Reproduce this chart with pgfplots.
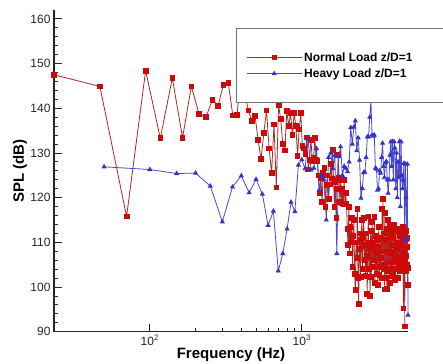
\documentclass[border=0pt]{standalone}
\usepackage{pgfplots}
\pgfplotsset{compat=1.18}
\usepackage{fontspec}
\setmainfont{Liberation Sans}
\definecolor{redS}{RGB}{205,10,10}
\definecolor{redL}{RGB}{175,40,40}
\definecolor{blueS}{RGB}{50,50,205}
\definecolor{blueL}{RGB}{75,75,210}
\begin{document}
\begin{tikzpicture}
\begin{axis}[
  scale only axis, width=354pt, height=321.7pt,
  xmode=log, xmin=23.4, xmax=5000, ymin=90, ymax=162,
  axis lines*=left,
  axis line style={black!85, line width=1.1pt},
  tick align=inside,
  major tick length=8pt, minor tick length=4pt,
  tick style={black!85, line width=0.9pt},
  ytick={90,100,...,160}, minor y tick num=4,
  xtick={100,1000}, xticklabels={10\textsuperscript{2},10\textsuperscript{3}},
  /pgf/number format/assume math mode=true,
  ticklabel style={font=\fontsize{12}{14}\selectfont, text=black!85},
  xlabel={Frequency (Hz)}, ylabel={SPL (dB)},
  xlabel style={at={(rel axis cs:0.5,0)}, anchor=center, yshift=-23pt, font=\bfseries\fontsize{15}{17}\selectfont},
  ylabel style={at={(rel axis cs:0,0.5)}, anchor=center, yshift=34pt, font=\bfseries\fontsize{15}{17}\selectfont},
  legend style={at={(rel axis cs:0.514,0.944)}, anchor=north west, draw=black!55, line width=0.8pt,
    inner xsep=10pt, inner ysep=22pt, font=\fontsize{12}{13}\selectfont\bfseries, row sep=2pt},
  legend cell align=left,
  legend image code/.code={\draw[#1,mark repeat=2,mark phase=2] plot coordinates {(0pt,0pt) (27.5pt,0pt) (55pt,0pt)};},
  clip=false,
]
\addplot[redL, line width=0.8pt, mark=square*, mark size=2.35pt, mark options={fill=redS, draw=redS, solid}] coordinates {
(23.4,147.5)(46.9,144.9)(70.3,115.8)(93.8,148.4)(117.2,133.3)(140.6,146.8)(164.1,133.4)(187.5,144.9)(210.9,138.7)(234.4,138.1)
(257.8,141.9)(281.3,140.6)(304.7,145.3)(328.1,145.7)(351.6,138.4)(375.0,138.6)(398.4,147.5)(421.9,143.0)(445.3,139.5)(468.8,137.2)
(492.2,138.3)(515.6,133.0)(539.1,128.6)(562.5,134.5)(585.9,139.5)(609.4,131.0)(632.8,125.6)(656.3,136.4)(679.7,122.3)(703.1,140.7)
(726.6,137.6)(750.0,132.0)(773.4,130.6)(796.9,139.4)(820.3,136.0)(843.8,139.0)(867.2,134.0)(890.6,138.9)(914.1,136.0)(937.5,129.4)
(960.9,135.3)(984.4,138.9)(1007.8,131.6)(1031.3,131.0)(1054.7,129.8)(1078.1,133.5)(1101.6,126.3)(1125.0,128.5)(1148.4,133.0)(1171.9,128.3)
(1195.3,129.0)(1218.8,133.3)(1242.2,128.5)(1265.6,128.3)(1289.1,125.0)(1312.5,121.0)(1335.9,124.5)(1359.4,119.0)(1382.8,125.5)(1406.3,126.6)
(1429.7,118.0)(1453.1,122.8)(1476.6,125.0)(1500.0,119.8)(1523.4,123.0)(1546.9,127.5)(1570.3,124.3)(1593.8,130.7)(1617.2,124.0)(1640.6,118.0)
(1664.1,123.5)(1687.5,115.4)(1710.9,122.0)(1734.4,129.5)(1757.8,124.5)(1781.3,119.0)(1804.7,124.0)(1828.1,118.7)(1851.6,122.0)(1875.0,118.5)
(1898.4,124.0)(1921.9,118.6)(1945.3,121.0)(1968.8,118.6)(1992.2,113.0)(2015.6,109.5)(2039.1,118.0)(2062.5,107.5)(2085.9,113.5)(2109.4,110.0)
(2132.8,115.5)(2156.3,104.5)(2179.7,111.5)(2203.1,115.0)(2226.6,103.0)(2250.0,99.4)(2273.4,110.0)(2296.9,106.5)(2320.3,117.5)(2343.8,102.0)
(2367.2,96.3)(2390.6,108.5)(2414.1,112.0)(2437.5,102.3)(2460.9,110.5)(2484.4,115.0)(2507.8,104.0)(2531.3,111.0)(2554.7,115.5)(2578.1,106.0)
(2601.6,109.5)(2625.0,102.5)(2648.4,112.0)(2671.9,107.0)(2695.3,98.5)(2718.8,110.0)(2742.2,115.8)(2765.6,104.0)(2789.1,108.5)(2812.5,98.0)
(2835.9,112.5)(2859.4,102.3)(2882.8,109.0)(2906.3,114.5)(2929.7,104.5)(2953.1,110.0)(2976.6,106.0)(3000.0,115.7)(3023.4,101.0)(3046.9,108.0)
(3070.3,111.5)(3093.8,103.0)(3117.2,107.5)(3140.6,110.5)(3164.1,100.5)(3187.5,109.0)(3210.9,113.5)(3234.4,102.7)(3257.8,108.0)(3281.3,104.5)
(3304.7,111.0)(3328.1,106.5)(3351.6,102.0)(3375.0,117.5)(3398.4,108.0)(3421.9,119.7)(3445.3,105.0)(3468.8,112.0)(3492.2,99.5)(3515.6,116.6)
(3539.1,104.0)(3562.5,110.5)(3585.9,102.0)(3609.4,113.0)(3632.8,99.6)(3656.3,108.0)(3679.7,115.0)(3703.1,103.5)(3726.6,111.0)(3750.0,105.5)
(3773.4,114.0)(3796.9,101.0)(3820.3,107.5)(3843.8,112.0)(3867.2,104.0)(3890.6,109.5)(3914.1,113.0)(3937.5,102.5)(3960.9,108.0)(3984.4,103.0)
(4007.8,111.0)(4031.3,105.5)(4054.7,114.0)(4078.1,107.0)(4101.6,101.5)(4125.0,112.5)(4148.4,106.0)(4171.9,109.0)(4195.3,104.0)(4218.8,113.0)
(4242.2,106.5)(4265.6,110.0)(4289.1,102.0)(4312.5,108.5)(4335.9,112.5)(4359.4,105.0)(4382.8,110.0)(4406.3,103.5)(4429.7,111.5)(4453.1,106.0)
(4476.6,113.0)(4500.0,104.5)(4523.4,109.5)(4546.9,112.0)(4570.3,105.0)(4593.8,110.5)(4617.2,107.0)(4640.6,113.5)(4664.1,95.2)(4687.5,108.0)
(4710.9,104.5)(4734.4,112.0)(4757.8,91.2)(4781.3,110.5)(4804.7,106.0)(4828.1,107.0)(4851.6,112.5)(4875.0,103.5)(4898.4,109.0)(4921.9,105.0)
(4945.3,111.0)(4968.8,100.5)(4992.2,104.3)
};
\addlegendentry{\makebox[190pt][l]{Normal Load z/D=1}}
\addplot[blueL, line width=0.8pt, mark=triangle*, mark size=2.2pt, mark options={fill=blueS, draw=blueS, solid}] coordinates {
(50,126.9)(100,126.3)(150,125.4)(200,125.5)(250,122.6)(300,114.6)(350,122.4)(400,124.9)(450,121.1)(500,124.1)
(550,120.8)(600,113.8)(650,117.0)(700,103.6)(750,107.5)(800,113.0)(850,119.0)(900,116.9)(950,127.3)(1000,128.5)
(1050,126.5)(1100,133.0)(1150,126.2)(1200,126.6)(1250,131.0)(1300,121.7)(1350,125.0)(1400,124.0)(1450,115.0)(1500,129.0)
(1550,130.0)(1600,126.5)(1650,129.5)(1700,107.5)(1750,129.2)(1800,131.4)(1850,125.0)(1900,127.0)(1950,126.6)(2000,125.8)
(2050,128.0)(2100,135.7)(2150,132.0)(2200,135.8)(2250,137.2)(2300,130.5)(2350,133.4)(2400,128.4)(2450,119.9)(2500,122.1)
(2550,125.6)(2600,125.7)(2650,129.0)(2700,133.6)(2750,133.6)(2800,138.0)(2850,141.7)(2900,134.0)(2950,133.8)(3000,134.0)
(3050,126.6)(3100,126.4)(3150,121.7)(3200,122.0)(3250,126.0)(3300,125.5)(3350,129.0)(3400,132.2)(3450,127.0)(3500,124.5)
(3550,127.8)(3600,128.1)(3650,124.0)(3700,121.0)(3750,124.0)(3800,129.5)(3850,132.5)(3900,127.0)(3950,132.6)(4000,124.0)
(4050,132.5)(4100,131.1)(4150,122.0)(4200,130.0)(4250,120.0)(4300,128.0)(4350,124.5)(4400,132.6)(4450,118.0)(4500,132.5)
(4550,125.0)(4600,122.0)(4650,124.0)(4700,127.7)(4750,110.5)(4800,127.5)(4850,120.0)(4900,110.5)(4950,127.5)(5000,93.7)
};
\addlegendentry{Heavy Load z/D=1}
\end{axis}
\pgfresetboundingbox
\useasboundingbox (-54pt,-31.3pt) rectangle (389pt,331.7pt);
\end{tikzpicture}
\end{document}
